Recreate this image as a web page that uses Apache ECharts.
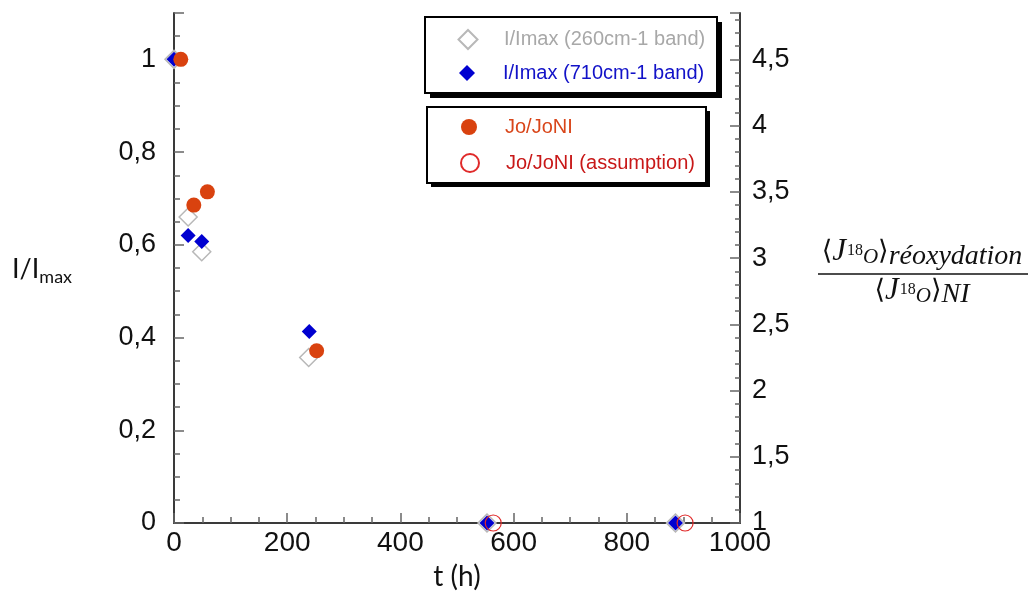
<!DOCTYPE html>
<html>
<head>
<meta charset="utf-8">
<script src="https://cdn.jsdelivr.net/npm/echarts@6/dist/echarts.min.js"></script>
<style>
html,body{margin:0;padding:0;background:#fff;}
#chart{width:1032px;height:596px;}
</style>
</head>
<body>
<div id="chart"></div>
<script>
// ---- data ----
const t260 = [0, 25, 49, 238, 553, 886];
const i260 = [1, 0.66, 0.585, 0.357, 0, 0];
const t710 = [0, 25, 49, 239, 553, 886];
const i710 = [1, 0.62, 0.607, 0.413, 0, 0];
const tJo = [12, 35, 59, 252];
const jo = [4.5, 3.4, 3.5, 2.3];
const tJoA = [564, 903];
const joA = [1, 1];

const names = ['I/Imax (260cm-1 band)', 'I/Imax (710cm-1 band)', 'Jo/JoNI', 'Jo/JoNI (assumption)'];
const xTitle = 't (h)';

function pairs(xs, ys) { return xs.map((x, i) => [x, ys[i]]); }
function fmt(v) { return String(Math.round(v * 10) / 10).replace('.', ','); }

const colGrey = '#b8b8b8', colBlue = '#0000d0', colOrange = '#d9420f', colRed = '#e02a2a';

const chart = echarts.init(document.getElementById('chart'), null, {renderer: 'canvas'});

const axisLine = {show: true, lineStyle: {color: '#3a3a3a', width: 2}};
const tickSty = {color: '#666', width: 1.5};

// one legend per entry so each icon keeps its own size
function legendItem(name, color, size, cx, cy) {
  return {
    left: cx - size / 2, top: cy - 10, orient: 'vertical',
    itemWidth: size, itemHeight: size, selectedMode: false, padding: 0,
    textStyle: {fontFamily: 'Liberation Sans', fontSize: 20, color: color, padding: [0, 0, 0, 31 - size / 2]},
    data: [{name: name}]
  };
}

chart.setOption({
  animation: false,
  backgroundColor: '#fff',
  grid: {left: 174, right: 292, top: 13, bottom: 69, containLabel: false},
  xAxis: {
    type: 'value', min: 0, max: 1000, interval: 200,
    name: xTitle, nameLocation: 'middle', nameGap: 40,
    nameTextStyle: {fontFamily: 'Lato', fontSize: 28, color: '#111'},
    axisLine: axisLine,
    axisTick: {show: true, inside: true, length: 10, lineStyle: tickSty},
    minorTick: {show: true, splitNumber: 4, length: 6, lineStyle: tickSty},
    splitLine: {show: false},
    axisLabel: {fontFamily: 'Liberation Sans', fontSize: 28, color: '#111', margin: 6, formatter: fmt}
  },
  yAxis: [{
    type: 'value', min: 0, max: 1.1, interval: 0.2, position: 'left',
    axisLine: axisLine,
    axisTick: {show: true, inside: true, length: 10, lineStyle: tickSty},
    minorTick: {show: true, splitNumber: 4, length: 6, lineStyle: tickSty},
    splitLine: {show: false},
    axisLabel: {fontFamily: 'Liberation Sans', fontSize: 27, color: '#111', margin: 18, formatter: fmt,
      showMaxLabel: false}
  }, {
    type: 'value', min: 1, max: 4.85, interval: 0.5, position: 'right',
    axisLine: axisLine,
    axisTick: {show: true, inside: true, length: 10, lineStyle: tickSty},
    minorTick: {show: true, splitNumber: 5, length: 5, lineStyle: tickSty},
    splitLine: {show: false},
    axisLabel: {fontFamily: 'Liberation Sans', fontSize: 27, color: '#111', margin: 12, formatter: fmt,
      showMaxLabel: false}
  }],
  legend: [
    legendItem(names[0], '#a8a8a8', 19, 467, 39),
    legendItem(names[1], '#1212c8', 16, 467, 73),
    legendItem(names[2], '#d9461a', 16, 469, 127),
    legendItem(names[3], '#c81818', 18, 469, 163)
  ],
  graphic: [
    {type: 'rect', z: 0, shape: {x: 430, y: 22, width: 292, height: 76}, style: {fill: '#000'}},
    {type: 'rect', z: 1, shape: {x: 425, y: 17, width: 292, height: 76}, style: {fill: '#fff', stroke: '#000', lineWidth: 2}},
    {type: 'rect', z: 0, shape: {x: 431, y: 111, width: 279, height: 76}, style: {fill: '#000'}},
    {type: 'rect', z: 1, shape: {x: 427, y: 107, width: 279, height: 76}, style: {fill: '#fff', stroke: '#000', lineWidth: 2}},
    {type: 'text', left: 12, top: 256, style: {
      text: '{a|I/I}{b|max}',
      rich: {
        a: {fontFamily: 'Lato', fontSize: 27, fill: '#111'},
        b: {fontFamily: 'Lato', fontSize: 18, fill: '#111', padding: [15, 0, 0, 0]}
      }
    }},
    {type: 'text', x: 922, y: 252, style: {
      text: '{p|⟨}{j|J}{s|18}{o|O}{p|⟩}{r|réoxydation}',
      align: 'center', verticalAlign: 'middle',
      rich: {
        p: {fontFamily: 'DejaVu Serif', fontSize: 27, fill: '#111'},
        j: {fontFamily: 'Liberation Serif', fontStyle: 'italic', fontSize: 31, fill: '#111'},
        s: {fontFamily: 'Liberation Serif', fontSize: 16, fill: '#111', padding: [0, 0, 2, 1]},
        o: {fontFamily: 'Liberation Serif', fontStyle: 'italic', fontSize: 21, fill: '#111', padding: [10, 0, 0, 0]},
        r: {fontFamily: 'Liberation Serif', fontStyle: 'italic', fontSize: 28, fill: '#111', padding: [9, 0, 0, 0]}
      }
    }},
    {type: 'line', shape: {x1: 818, y1: 274, x2: 1028, y2: 274}, style: {stroke: '#111', lineWidth: 1.5}},
    {type: 'text', x: 922, y: 291, style: {
      text: '{p|⟨}{j|J}{s|18}{o|O}{p|⟩}{r|NI}',
      align: 'center', verticalAlign: 'middle',
      rich: {
        p: {fontFamily: 'DejaVu Serif', fontSize: 27, fill: '#111'},
        j: {fontFamily: 'Liberation Serif', fontStyle: 'italic', fontSize: 31, fill: '#111'},
        s: {fontFamily: 'Liberation Serif', fontSize: 16, fill: '#111', padding: [0, 0, 2, 1]},
        o: {fontFamily: 'Liberation Serif', fontStyle: 'italic', fontSize: 21, fill: '#111', padding: [10, 0, 0, 0]},
        r: {fontFamily: 'Liberation Serif', fontStyle: 'italic', fontSize: 28, fill: '#111', padding: [7, 0, 0, 0]}
      }
    }}
  ],
  series: [{
    name: names[0], type: 'scatter', yAxisIndex: 0, symbol: 'diamond', symbolSize: 18, z: 2,
    itemStyle: {color: '#ffffff', borderColor: colGrey, borderWidth: 1.5, opacity: 1},
    data: pairs(t260, i260), silent: true
  }, {
    name: names[1], type: 'scatter', yAxisIndex: 0, symbol: 'diamond', symbolSize: 15, z: 3,
    itemStyle: {color: colBlue, opacity: 1},
    data: pairs(t710, i710), silent: true
  }, {
    name: names[2], type: 'scatter', yAxisIndex: 1, symbol: 'circle', symbolSize: 15, z: 4,
    itemStyle: {color: colOrange, opacity: 1},
    data: pairs(tJo, jo), silent: true
  }, {
    name: names[3], type: 'scatter', yAxisIndex: 1, symbol: 'circle', symbolSize: 16, z: 5,
    itemStyle: {color: 'rgba(255,255,255,0)', borderColor: colRed, borderWidth: 1.2, opacity: 1},
    data: pairs(tJoA, joA), silent: true
  }]
});
</script>
</body>
</html>
